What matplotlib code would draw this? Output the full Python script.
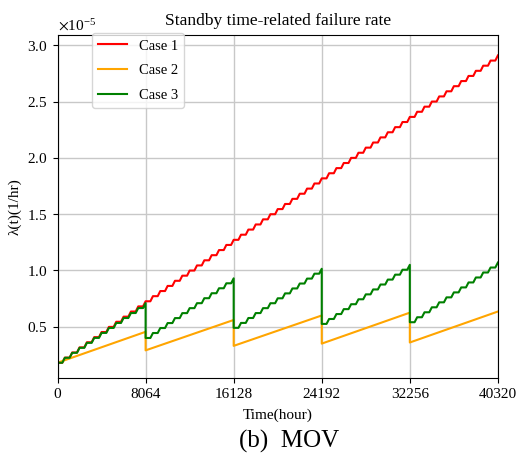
import numpy as np
import matplotlib
matplotlib.use("Agg")
import matplotlib.pyplot as plt
from matplotlib.ticker import ScalarFormatter

plt.rcParams['font.family'] = ['Liberation Serif', 'DejaVu Serif']
plt.rcParams['mathtext.fontset'] = 'stix'

# test interval boundaries (hours)
ticks = [0, 8064, 16128, 24192, 32256, 40320]
steps_per_interval = 12

# failure rate (x1e-5 /hr) at the start and end of each test interval
case1_start = [0.18]
case1_end = [2.91]
case2_start = [0.18, 0.29, 0.33, 0.35, 0.36]
case2_end = [0.455, 0.56, 0.60, 0.625, 0.635]
case3_start = [0.18, 0.40, 0.49, 0.525, 0.54]
case3_end = [0.71, 0.93, 1.015, 1.05, 1.07]

scale = 1e-5


def ramp(t0, t1, v0, v1):
    return [t0, t1], [v0, v1]


def staircase(t0, t1, v0, v1, n, flat=0.65):
    # step-wise rise: each of the n periods holds, then climbs to the next level
    t = np.linspace(t0, t1, n + 1)
    v = np.linspace(v0, v1, n + 1)
    tt, vv = [t[0]], [v[0]]
    for i in range(n):
        tt += [t[i] + flat * (t[i + 1] - t[i]), t[i + 1]]
        vv += [v[i], v[i + 1]]
    return tt, vv


def sawtooth(starts, ends, stair):
    xs, ys = [], []
    for k in range(len(starts)):
        if stair:
            tx, ty = staircase(ticks[k], ticks[k + 1], starts[k], ends[k], steps_per_interval)
        else:
            tx, ty = ramp(ticks[k], ticks[k + 1], starts[k], ends[k])
        xs += list(tx)
        ys += list(ty)
    return np.array(xs), np.array(ys) * scale


fig = plt.figure(figsize=(5.23, 4.57), dpi=100)
ax = fig.add_axes([0.110, 0.173, 0.842, 0.750])

x1, y1 = staircase(ticks[0], ticks[-1], case1_start[0], case1_end[0], steps_per_interval * 5)
ax.plot(x1, np.array(y1) * scale, color='red', lw=1.5, label='Case 1')
x2, y2 = sawtooth(case2_start, case2_end, False)
ax.plot(x2, y2, color='orange', lw=1.5, label='Case 2')
x3, y3 = sawtooth(case3_start, case3_end, True)
ax.plot(x3, y3, color='green', lw=1.5, label='Case 3')

ax.set_xlim(0, 40320)
ax.set_ylim(0.045e-5, 3.09e-5)
ax.set_xticks(ticks)
ax.set_yticks(np.arange(0.5, 3.01, 0.5) * scale)
fmt = ScalarFormatter(useMathText=True)
fmt.set_powerlimits((-3, 3))
ax.yaxis.set_major_formatter(fmt)
ax.tick_params(labelsize=11)
ax.grid(True, color='#c8c8c8', lw=1)
ax.yaxis.get_offset_text().set_fontsize(11)

ax.set_title('Standby time-related failure rate', fontsize=12.5, pad=7)
ax.set_xlabel('Time(hour)', fontsize=11, labelpad=6)
ax.set_ylabel('λ(t)(1/hr)', fontsize=11)
ax.legend(loc='upper left', bbox_to_anchor=(0.078, 1.005), fontsize=10.5,
          handlelength=2.0, labelspacing=0.8, borderaxespad=0)

fig.text(0.552, 0.033, '(b)  MOV', ha='center', va='center', fontsize=18)

fig.savefig('out.png', dpi=100)
